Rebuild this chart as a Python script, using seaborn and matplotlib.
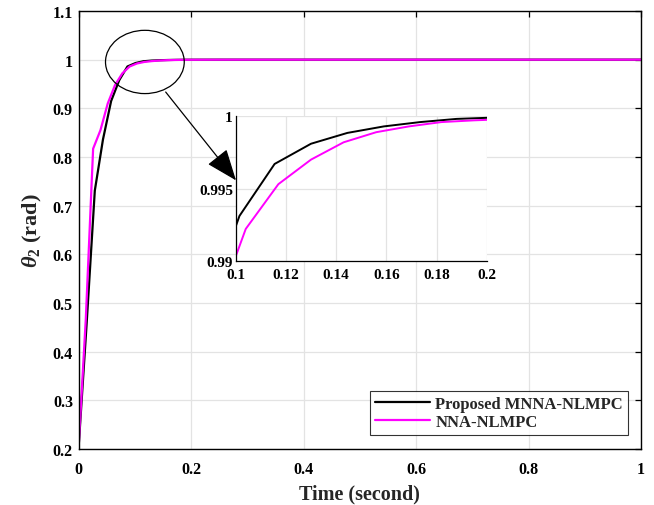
import numpy as np
import pandas as pd
import seaborn as sns
import matplotlib
matplotlib.use("Agg")
import matplotlib.pyplot as plt
from matplotlib.patches import Ellipse

# Joint angle response of the two controllers
t_mnna = [0.0, 0.0145, 0.029, 0.0435, 0.058, 0.0725, 0.087, 0.1015, 0.1155,
          0.13, 0.1445, 0.159, 0.1735, 0.188, 0.2025, 0.25, 0.3, 0.5, 1.0]
th_mnna = [0.2, 0.458, 0.731, 0.836, 0.915, 0.958, 0.986, 0.9931, 0.9967,
           0.9981, 0.99885, 0.9993, 0.9996, 0.99982, 0.99991, 0.99999, 1.0, 1.0, 1.0]

t_nna = [0.0, 0.013, 0.026, 0.039, 0.052, 0.065, 0.078, 0.091, 0.104, 0.117,
         0.130, 0.143, 0.156, 0.169, 0.182, 0.195, 0.21, 0.25, 0.3, 0.5, 1.0]
th_nna = [0.2, 0.468, 0.817, 0.855, 0.91, 0.948, 0.972, 0.986, 0.9922, 0.9953,
          0.9970, 0.9982, 0.9989, 0.9993, 0.9996, 0.99972, 0.99982, 0.99995, 1.0, 1.0, 1.0]

series_names = ["Proposed MNNA-NLMPC", "NNA-NLMPC"]
series_colors = ["#000000", "#ff00ff"]

x_ticks = [0, 0.2, 0.4, 0.6, 0.8, 1.0]
y_ticks = [0.2, 0.3, 0.4, 0.5, 0.6, 0.7, 0.8, 0.9, 1.0, 1.1]
zoom_x_ticks = [0.1, 0.12, 0.14, 0.16, 0.18, 0.2]
zoom_y_ticks = [0.99, 0.995, 1.0]

df = pd.concat([
    pd.DataFrame({"t": t_mnna, "theta": th_mnna, "ctrl": series_names[0]}),
    pd.DataFrame({"t": t_nna, "theta": th_nna, "ctrl": series_names[1]}),
], ignore_index=True)

sns.set_style("white")
plt.rcParams["font.family"] = ["Liberation Serif", "DejaVu Serif"]
plt.rcParams["font.weight"] = "bold"
plt.rcParams["mathtext.fontset"] = "custom"
plt.rcParams["mathtext.it"] = "Liberation Serif:italic:bold"
plt.rcParams["mathtext.rm"] = "Liberation Serif:bold"
plt.rcParams["mathtext.bf"] = "Liberation Serif:bold"

palette = dict(zip(series_names, series_colors))
grid_col = "#e3e3e3"

fig = plt.figure(figsize=(6.54, 5.06), dpi=100)
ax = fig.add_axes([78.5 / 654, 1 - 450 / 506, (641 - 78.5) / 654, (450 - 12) / 506])

sns.lineplot(data=df, x="t", y="theta", hue="ctrl", palette=palette,
             linewidth=1.6, ax=ax, sort=False, estimator=None)

def fmt(v):
    return ("%g" % v)

ax.set_xlim(0, 1)
ax.set_ylim(0.2, 1.1)
ax.set_xticks(x_ticks)
ax.set_xticklabels([fmt(v) for v in x_ticks])
ax.set_yticks(y_ticks)
ax.set_yticklabels([fmt(v) for v in y_ticks])
ax.tick_params(direction="in", length=4, width=0.9, labelsize=11.5,
               top=True, right=True, colors="black")
ax.tick_params(axis="x", pad=9)
ax.tick_params(axis="y", pad=4)
for lab in ax.get_xticklabels() + ax.get_yticklabels():
    lab.set_fontweight("bold")
for s in ax.spines.values():
    s.set_visible(True)
    s.set_color("black")
    s.set_linewidth(1.0)
ax.grid(True, color=grid_col, linewidth=0.9)
ax.set_axisbelow(True)
ax.set_xlabel("Time (second)", fontsize=14.5, fontweight="bold", labelpad=4)
ax.set_ylabel(r"$\theta_2$ (rad)", fontsize=16, fontweight="bold", labelpad=6)

leg = ax.legend(loc="lower right", bbox_to_anchor=(0.977, 0.033), fontsize=12,
                frameon=True, fancybox=False, borderpad=0.3, labelspacing=0.12,
                handlelength=3.3, handletextpad=0.3, borderaxespad=0.0)
leg.get_frame().set_edgecolor("black")
leg.get_frame().set_linewidth(0.8)
for txt in leg.get_texts():
    txt.set_fontweight("bold")

# Ellipse marking the zoomed region and arrow to the inset
ax.add_patch(Ellipse((0.118, 0.9953), 0.140, 0.130, fill=False,
                     edgecolor="black", linewidth=0.9, zorder=5))
ax.annotate("", xy=(0.28, 0.752), xytext=(0.155, 0.9335),
            arrowprops=dict(arrowstyle="-|>,head_length=0.9,head_width=0.35",
                            color="black", lw=0.9, mutation_scale=22,
                            shrinkA=0, shrinkB=0))

# Inset: detail of the settling region
axin = fig.add_axes([235.7 / 654, 1 - 261.7 / 506, (486.7 - 235.7) / 654, (261.7 - 117.3) / 506])
axin.set_facecolor("white")
sns.lineplot(data=df, x="t", y="theta", hue="ctrl", palette=palette,
             linewidth=1.4, ax=axin, sort=False, estimator=None, legend=False)
axin.set_xlim(0.1, 0.2)
axin.set_ylim(0.99, 1.0)
axin.set_xticks(zoom_x_ticks)
axin.set_xticklabels([fmt(v) for v in zoom_x_ticks])
axin.set_yticks(zoom_y_ticks)
axin.set_yticklabels([fmt(v) for v in zoom_y_ticks])
axin.tick_params(direction="in", length=3, width=0.8, labelsize=11,
                 colors="black")
axin.tick_params(axis="x", pad=5)
axin.tick_params(axis="y", pad=2)
for lab in axin.get_xticklabels() + axin.get_yticklabels():
    lab.set_fontweight("bold")
axin.spines["top"].set_visible(False)
axin.spines["right"].set_visible(False)
for k in ["left", "bottom"]:
    axin.spines[k].set_color("black")
    axin.spines[k].set_linewidth(0.9)
axin.grid(True, color=grid_col, linewidth=0.9)
axin.set_axisbelow(True)
axin.set_xlabel("")
axin.set_ylabel("")

fig.savefig("out.png", dpi=100)
